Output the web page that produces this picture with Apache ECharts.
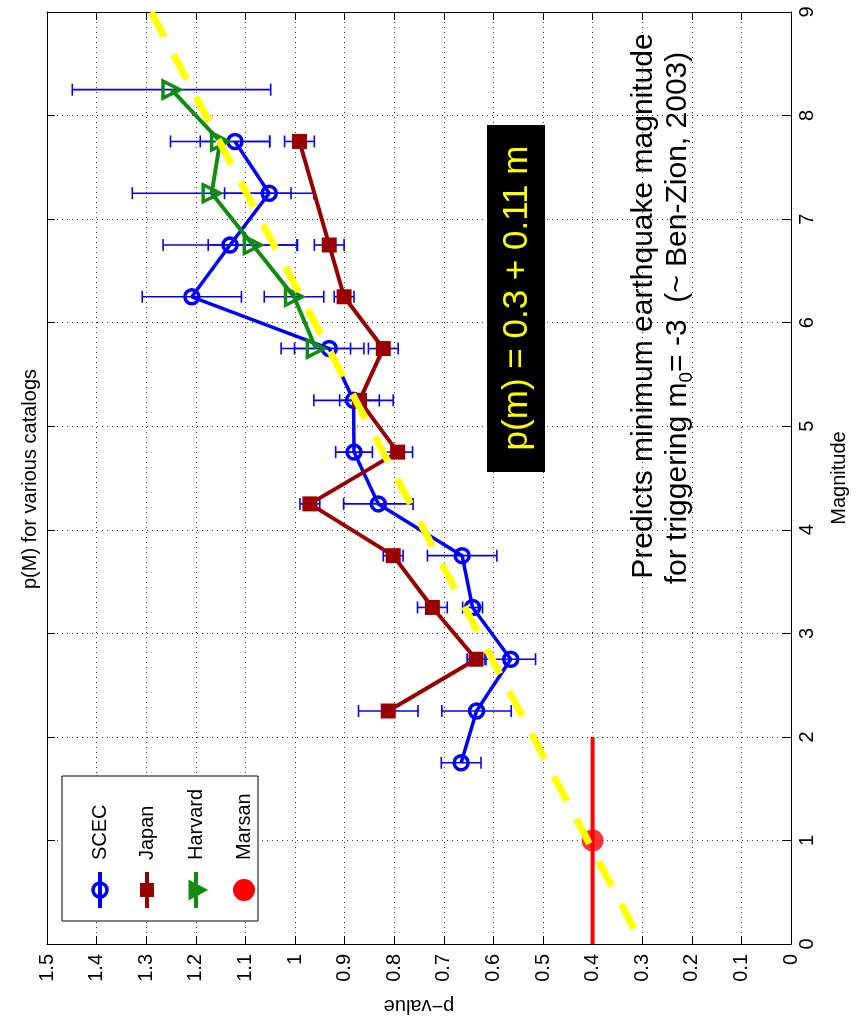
<!DOCTYPE html>
<html>
<head>
<meta charset="utf-8">
<title>p(M) for various catalogs</title>
<script src="https://cdn.jsdelivr.net/npm/echarts@6/dist/echarts.min.js"></script>
<style>
  html, body { margin: 0; padding: 0; background: #fff; }
  #chart { width: 857px; height: 1021px; }
</style>
</head>
<body>
<div id="chart"></div>
<script>
// Catalog p-values by magnitude bin, with symmetric errors on p
const scecM   = [1.75, 2.25, 2.75, 3.25, 3.75, 4.25, 4.75, 5.25, 5.75, 6.25, 6.75, 7.25, 7.75];
const scecP   = [0.665, 0.634, 0.565, 0.642, 0.663, 0.832, 0.881, 0.882, 0.931, 1.208, 1.131, 1.052, 1.121];
const scecErr = [0.04, 0.07, 0.05, 0.02, 0.07, 0.07, 0.037, 0.08, 0.07, 0.10, 0.135, 0.09, 0.07];

const japanM   = [2.25, 2.75, 3.25, 3.75, 4.25, 4.75, 5.25, 5.75, 6.25, 6.75, 7.75];
const japanP   = [0.812, 0.635, 0.723, 0.802, 0.970, 0.793, 0.870, 0.822, 0.901, 0.931, 0.991];
const japanErr = [0.06, 0.018, 0.03, 0.02, 0.02, 0.03, 0.04, 0.03, 0.02, 0.03, 0.03];

const harvardM   = [5.75, 6.25, 6.75, 7.25, 7.75, 8.25];
const harvardP   = [0.958, 1.002, 1.085, 1.168, 1.151, 1.249];
const harvardErr = [0.07, 0.06, 0.09, 0.16, 0.10, 0.20];

// Marsan estimate: single p-value over a magnitude range
const marsanM = [1];
const marsanP = [0.4];
const marsanMLo = [0];
const marsanMHi = [2];

// Linear fit p(m) = 0.3 + 0.11 m, drawn between its end points
const fitM = [9, 0];
const fitP = [1.29, 0.3];

// Axis ticks
const pTicks = [0, 0.1, 0.2, 0.3, 0.4, 0.5, 0.6, 0.7, 0.8, 0.9, 1, 1.1, 1.2, 1.3, 1.4, 1.5];
const mTicks = [0, 1, 2, 3, 4, 5, 6, 7, 8, 9];

const FONT = '"Liberation Sans", Arial, Helvetica, sans-serif';
const BLUE = '#0000ff';
const DARKRED = '#990000';
const GREEN = '#118c11';
const RED = '#ff0000';
const YELLOW = '#ffff00';

const zip = (ps, ms) => ps.map((p, i) => [p, ms[i]]);
const withErr = (ps, ms, es) => ps.map((p, i) => [p, ms[i], es[i]]);

const errData = []
  .concat(withErr(scecP, scecM, scecErr))
  .concat(withErr(japanP, japanM, japanErr))
  .concat(withErr(harvardP, harvardM, harvardErr));

function renderErr(params, api) {
  const p = api.value(0), m = api.value(1), e = api.value(2);
  const a = api.coord([p - e, m]);
  const b = api.coord([p + e, m]);
  const cap = 6;
  const st = { stroke: BLUE, lineWidth: 1.6 };
  return {
    type: 'group',
    children: [
      { type: 'line', shape: { x1: a[0], y1: a[1], x2: b[0], y2: b[1] }, style: st },
      { type: 'line', shape: { x1: a[0], y1: a[1] - cap, x2: a[0], y2: a[1] + cap }, style: st },
      { type: 'line', shape: { x1: b[0], y1: b[1] - cap, x2: b[0], y2: b[1] + cap }, style: st }
    ]
  };
}

function renderRange(params, api) {
  const p = api.value(0), lo = api.value(1), hi = api.value(2);
  const a = api.coord([p, lo]);
  const b = api.coord([p, hi]);
  return {
    type: 'line',
    shape: { x1: a[0], y1: a[1], x2: b[0], y2: b[1] },
    style: { stroke: RED, lineWidth: 4 }
  };
}

const pMin = pTicks[0], pMax = pTicks[pTicks.length - 1];
const mMin = mTicks[0], mMax = mTicks[mTicks.length - 1];

const baseAxis = {
  type: 'value',
  axisLine: { show: true, onZero: false, lineStyle: { color: '#000', width: 1 } },
  axisTick: { show: true, inside: true, length: 8, lineStyle: { color: '#000' } }
};

const chart = echarts.init(document.getElementById('chart'), null, { renderer: 'canvas' });

// Legend drawn as graphic items (entries rotated with the rest of the text)
const legendX = [100, 147, 196, 244];
const legendNames = ['SCEC', 'Japan', 'Harvard', 'Marsan'];
const legendY = 890;
const legendItems = [
  { type: 'rect', shape: { x: 62, y: 776, width: 196, height: 145 },
    style: { fill: '#fff', stroke: '#000', lineWidth: 1 }, z: 100 },
  // SCEC
  { type: 'line', shape: { x1: legendX[0], y1: 872, x2: legendX[0], y2: 908 },
    style: { stroke: BLUE, lineWidth: 4 }, z: 101 },
  { type: 'circle', shape: { cx: legendX[0], cy: legendY, r: 7 },
    style: { fill: 'none', stroke: BLUE, lineWidth: 3.5 }, z: 102 },
  // Japan
  { type: 'line', shape: { x1: legendX[1], y1: 872, x2: legendX[1], y2: 908 },
    style: { stroke: DARKRED, lineWidth: 4 }, z: 101 },
  { type: 'rect', shape: { x: legendX[1] - 7, y: legendY - 7, width: 14, height: 14 },
    style: { fill: DARKRED }, z: 102 },
  // Harvard
  { type: 'line', shape: { x1: legendX[2], y1: 872, x2: legendX[2], y2: 908 },
    style: { stroke: GREEN, lineWidth: 4 }, z: 101 },
  { type: 'polygon', shape: { points: [[legendX[2] - 6, legendY - 8], [legendX[2] + 9, legendY], [legendX[2] - 6, legendY + 8]] },
    style: { fill: GREEN, stroke: GREEN, lineWidth: 3 }, z: 102 },
  // Marsan
  { type: 'circle', shape: { cx: legendX[3], cy: legendY, r: 11 },
    style: { fill: RED }, z: 102 }
];
legendNames.forEach((name, i) => {
  legendItems.push({
    type: 'text', x: legendX[i], y: 860, rotation: Math.PI / 2, z: 103,
    style: { text: name, font: '20px ' + FONT, fill: '#000', align: 'left', verticalAlign: 'middle' }
  });
});

const option = {
  animation: false,
  backgroundColor: '#fff',
  grid: { left: 47, right: 66, top: 12, bottom: 74, containLabel: false },
  xAxis: [
    Object.assign({}, baseAxis, {
      position: 'bottom', inverse: true, min: pMin, max: pMax, interval: 0.1,
      name: 'p\u2212value', nameLocation: 'middle', nameGap: 52, nameRotate: 180,
      nameTextStyle: { fontFamily: FONT, fontSize: 20, color: '#000' },
      axisLabel: { rotate: 90, margin: 10, fontFamily: FONT, fontSize: 20, color: '#000',
        formatter: v => String(Math.round(v * 10) / 10) },
      splitLine: { show: true, lineStyle: { color: '#333', width: 1, type: [1, 4] } }
    }),
    Object.assign({}, baseAxis, {
      position: 'top', inverse: true, min: pMin, max: pMax, interval: 0.1,
      axisLabel: { show: false }, splitLine: { show: false }
    })
  ],
  yAxis: [
    Object.assign({}, baseAxis, {
      position: 'right', min: mMin, max: mMax, interval: 1,
      name: 'Magnitude', nameLocation: 'middle', nameGap: 38, nameRotate: 90,
      nameTextStyle: { fontFamily: FONT, fontSize: 20, color: '#000' },
      axisLabel: { rotate: 90, margin: 6, fontFamily: FONT, fontSize: 20, color: '#000' },
      splitLine: { show: true, lineStyle: { color: '#333', width: 1, type: [1, 4] } }
    }),
    Object.assign({}, baseAxis, {
      position: 'left', min: mMin, max: mMax, interval: 1,
      axisLabel: { show: false }, splitLine: { show: false }
    })
  ],
  series: [
    {
      name: 'errors', type: 'custom', renderItem: renderErr,
      encode: { x: 0, y: 1 }, data: errData, z: 2, silent: true
    },
    {
      name: 'SCEC', type: 'line', data: zip(scecP, scecM), z: 3,
      symbol: 'circle', symbolSize: 14, showSymbol: true,
      lineStyle: { color: BLUE, width: 3.5 },
      itemStyle: { color: 'rgba(0,0,0,0)', borderColor: BLUE, borderWidth: 3.5 }
    },
    {
      name: 'Japan', type: 'line', data: zip(japanP, japanM), z: 4,
      symbol: 'rect', symbolSize: 15, showSymbol: true,
      lineStyle: { color: DARKRED, width: 4 },
      itemStyle: { color: DARKRED }
    },
    {
      name: 'Harvard', type: 'line', data: zip(harvardP, harvardM), z: 5,
      symbol: 'triangle', symbolSize: 17, symbolRotate: -90, showSymbol: true,
      lineStyle: { color: GREEN, width: 4 },
      itemStyle: { color: 'rgba(0,0,0,0)', borderColor: GREEN, borderWidth: 3.5 }
    },
    {
      name: 'Marsan range', type: 'custom', renderItem: renderRange,
      encode: { x: 0, y: [1, 2] }, z: 6, silent: true,
      data: marsanP.map((p, i) => [p, marsanMLo[i], marsanMHi[i]])
    },
    {
      name: 'Marsan', type: 'scatter', data: zip(marsanP, marsanM), z: 7,
      symbol: 'circle', symbolSize: 22, itemStyle: { color: RED }
    },
    {
      name: 'fit', type: 'line', data: zip(fitP, fitM), z: 8,
      symbol: 'none', lineStyle: { color: YELLOW, width: 7, type: [28, 20] }
    }
  ],
  graphic: [
    {
      type: 'text', x: 30, y: 479, rotation: Math.PI / 2, z: 100,
      style: { text: 'p(M) for various catalogs', font: '20px ' + FONT, fill: '#000',
        align: 'center', verticalAlign: 'middle' }
    },
    {
      type: 'rect', shape: { x: 487, y: 125, width: 58, height: 347 },
      style: { fill: '#000' }, z: 100
    },
    {
      type: 'text', x: 517, y: 298, rotation: Math.PI / 2, z: 101,
      style: { text: 'p(m) = 0.3 + 0.11 m', font: '35px ' + FONT, fill: YELLOW,
        align: 'center', verticalAlign: 'middle' }
    },
    {
      type: 'text', x: 644, y: 306, rotation: Math.PI / 2, z: 101,
      style: { text: 'Predicts minimum earthquake magnitude', font: '30px ' + FONT, fill: '#000',
        align: 'center', verticalAlign: 'middle' }
    },
    {
      type: 'text', x: 678, y: 318, rotation: Math.PI / 2, z: 101,
      style: {
        text: 'for triggering m{s|0}= -3  (~ Ben-Zion, 2003)',
        font: '30px ' + FONT, fill: '#000', align: 'center', verticalAlign: 'middle',
        lineHeight: 36,
        rich: { s: { fontSize: 19, fontFamily: FONT, lineHeight: 19, verticalAlign: 'bottom', fill: '#000' } }
      }
    }
  ].concat(legendItems)
};

chart.setOption(option);
</script>
</body>
</html>
